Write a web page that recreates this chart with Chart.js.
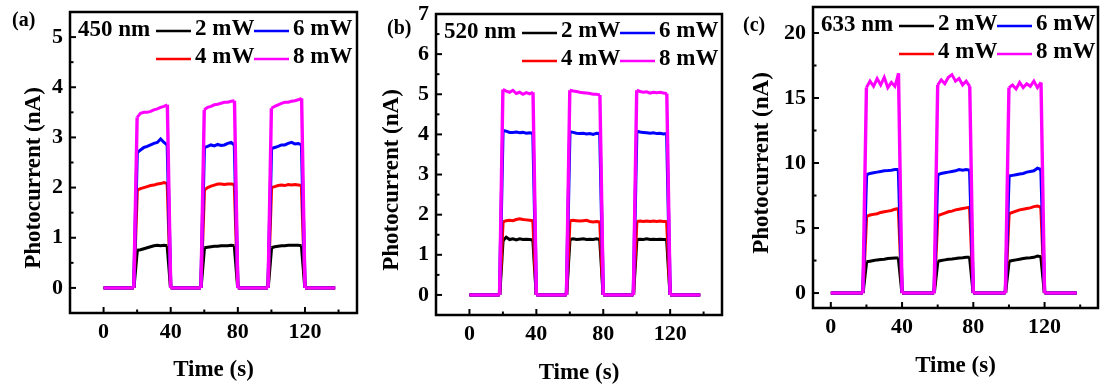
<!DOCTYPE html>
<html lang="en">
<head>
<meta charset="UTF-8">
<title>Photocurrent response</title>
<style>
  body { margin: 0; background: #fff; width: 1102px; height: 390px; position: relative; overflow: hidden; }
  canvas { position: absolute; top: 0; }
</style>
</head>
<body>
<canvas id="chartA" width="365" height="390" style="left:0"></canvas>
<canvas id="chartB" width="372" height="390" style="left:365px"></canvas>
<canvas id="chartC" width="365" height="390" style="left:737px"></canvas>

<script src="https://cdn.jsdelivr.net/npm/chart.js"></script>
<script>
// sample times (s): light on ~20-38 s, 60-78 s, 100-118 s
const timeS = [0, 18, 20, 22, 24, 26, 28, 30, 32, 34, 36, 38, 40, 58, 60, 62, 64, 66, 68, 70, 72, 74, 76, 78, 80, 98, 100, 102, 104, 106, 108, 110, 112, 114, 116, 118, 120, 138];

const xTicks = [0, 40, 80, 120];
const xMinor = [20, 60, 100, 140];

// (a) 450 nm, photocurrent in nA
const a2mW = [0, 0, 0.75, 0.76, 0.78, 0.80, 0.82, 0.84, 0.85, 0.84, 0.85, 0.84, 0, 0, 0.80, 0.81, 0.82, 0.83, 0.83, 0.84, 0.84, 0.84, 0.85, 0.84, 0, 0, 0.80, 0.82, 0.83, 0.84, 0.84, 0.85, 0.85, 0.85, 0.85, 0.84, 0, 0];
const a4mW = [0, 0, 1.95, 1.98, 2.00, 2.02, 2.04, 2.05, 2.07, 2.08, 2.10, 2.08, 0, 0, 1.95, 2.00, 2.03, 2.05, 2.07, 2.07, 2.06, 2.07, 2.07, 2.06, 0, 0, 2.00, 2.02, 2.04, 2.05, 2.04, 2.06, 2.05, 2.06, 2.05, 2.04, 0, 0];
const a6mW = [0, 0, 2.70, 2.75, 2.80, 2.82, 2.85, 2.88, 2.90, 2.97, 2.90, 2.85, 0, 0, 2.80, 2.82, 2.85, 2.83, 2.86, 2.84, 2.85, 2.88, 2.90, 2.85, 0, 0, 2.78, 2.80, 2.82, 2.85, 2.85, 2.88, 2.90, 2.87, 2.88, 2.85, 0, 0];
const a8mW = [0, 0, 3.40, 3.48, 3.50, 3.50, 3.52, 3.55, 3.57, 3.60, 3.62, 3.65, 0, 0, 3.55, 3.60, 3.62, 3.65, 3.66, 3.68, 3.70, 3.70, 3.72, 3.73, 0, 0, 3.58, 3.62, 3.65, 3.68, 3.70, 3.70, 3.72, 3.73, 3.75, 3.78, 0, 0];
const aYTicks = [0, 1, 2, 3, 4, 5];
const aYMinor = [0.5, 1.5, 2.5, 3.5, 4.5];

// (b) 520 nm
const b2mW = [0, 0, 1.35, 1.44, 1.38, 1.40, 1.37, 1.40, 1.38, 1.39, 1.38, 1.37, 0, 0, 1.38, 1.40, 1.38, 1.39, 1.40, 1.38, 1.39, 1.38, 1.40, 1.38, 0, 0, 1.38, 1.39, 1.38, 1.40, 1.38, 1.39, 1.38, 1.39, 1.38, 1.38, 0, 0];
const b4mW = [0, 0, 1.82, 1.85, 1.86, 1.85, 1.88, 1.90, 1.88, 1.87, 1.86, 1.85, 0, 0, 1.85, 1.86, 1.85, 1.84, 1.85, 1.86, 1.83, 1.82, 1.83, 1.82, 0, 0, 1.83, 1.84, 1.83, 1.84, 1.83, 1.84, 1.83, 1.84, 1.83, 1.83, 0, 0];
const b6mW = [0, 0, 4.10, 4.08, 4.05, 4.05, 4.06, 4.04, 4.05, 4.03, 4.04, 4.03, 0, 0, 4.07, 4.05, 4.03, 4.02, 4.03, 4.01, 4.02, 4.00, 4.03, 4.02, 0, 0, 4.08, 4.06, 4.05, 4.04, 4.03, 4.04, 4.02, 4.03, 4.01, 4.02, 0, 0];
const b8mW = [0, 0, 5.12, 5.08, 5.05, 5.10, 5.02, 5.05, 5.00, 5.04, 5.01, 5.05, 0, 0, 5.10, 5.08, 5.07, 5.05, 5.04, 5.03, 5.02, 5.00, 5.00, 4.98, 0, 0, 5.10, 5.07, 5.05, 5.06, 5.03, 5.05, 5.04, 5.05, 5.03, 5.02, 0, 0];
const bYTicks = [0, 1, 2, 3, 4, 5, 6, 7];
const bYMinor = [0.5, 1.5, 2.5, 3.5, 4.5, 5.5, 6.5];

// (c) 633 nm
const c2mW = [0, 0, 2.40, 2.45, 2.50, 2.55, 2.58, 2.60, 2.65, 2.68, 2.70, 2.70, 0, 0, 2.45, 2.50, 2.55, 2.60, 2.62, 2.65, 2.70, 2.72, 2.75, 2.75, 0, 0, 2.45, 2.50, 2.55, 2.60, 2.65, 2.70, 2.72, 2.75, 2.85, 2.80, 0, 0];
const c4mW = [0, 0, 5.90, 6.00, 6.05, 6.10, 6.20, 6.25, 6.30, 6.35, 6.45, 6.50, 0, 0, 5.95, 6.05, 6.15, 6.25, 6.30, 6.40, 6.45, 6.50, 6.55, 6.60, 0, 0, 6.10, 6.20, 6.30, 6.40, 6.45, 6.50, 6.55, 6.65, 6.70, 6.60, 0, 0];
const c6mW = [0, 0, 9.10, 9.20, 9.25, 9.30, 9.35, 9.40, 9.42, 9.45, 9.50, 9.50, 0, 0, 9.10, 9.20, 9.25, 9.30, 9.35, 9.40, 9.50, 9.45, 9.50, 9.45, 0, 0, 9.00, 9.05, 9.10, 9.15, 9.20, 9.30, 9.35, 9.40, 9.60, 9.50, 0, 0];
const c8mW = [0, 0, 15.8, 16.3, 15.9, 16.5, 16.0, 16.6, 15.8, 16.2, 15.9, 16.9, 0, 0, 16.0, 16.4, 16.1, 16.6, 16.8, 16.3, 16.5, 16.0, 16.3, 15.9, 0, 0, 15.8, 16.0, 15.7, 16.2, 15.8, 16.1, 15.9, 16.3, 15.8, 16.2, 0, 0];
const cYTicks = [0, 5, 10, 15, 20];
const cYMinor = [2.5, 7.5, 12.5, 17.5];

const powers = ['2 mW', '4 mW', '6 mW', '8 mW'];
const colors = ['#000000', '#ff0000', '#0000ff', '#ff00ff'];

const serif = "'Liberation Serif', 'Times New Roman', serif";
Chart.defaults.font.family = serif;
Chart.defaults.color = '#000';

// on/off switching edges get their own style, so each is stroked as a separate piece
const isEdge = c => (c.p0.parsed.y === 0) !== (c.p1.parsed.y === 0);

// frame, inward ticks, panel tag, legend and y title
const panelDecor = {
  id: 'panelDecor',
  afterDraw(chart, args, o) {
    const { ctx, chartArea: a } = chart;
    const xs = chart.scales.x, ys = chart.scales.y;
    const seg = (x1, y1, x2, y2) => { ctx.beginPath(); ctx.moveTo(x1, y1); ctx.lineTo(x2, y2); ctx.stroke(); };
    ctx.save();
    ctx.strokeStyle = '#000';
    ctx.lineWidth = 2;
    xTicks.forEach(v => { const p = xs.getPixelForValue(v); seg(p, a.bottom, p, a.bottom - 6); });
    xMinor.forEach(v => { const p = xs.getPixelForValue(v); seg(p, a.bottom, p, a.bottom - 3.5); });
    o.yTicks.forEach(v => { const p = ys.getPixelForValue(v); seg(a.left, p, a.left + 6, p); });
    o.yMinor.forEach(v => { const p = ys.getPixelForValue(v); seg(a.left, p, a.left + 3.5, p); });
    ctx.lineWidth = 2.5;
    ctx.strokeRect(a.left, a.top, a.right - a.left, a.bottom - a.top);

    ctx.fillStyle = '#000';
    ctx.textBaseline = 'middle';
    ctx.textAlign = 'left';
    ctx.font = 'bold 20px ' + serif;
    ctx.fillText(o.tag, o.tagX, o.tagY);

    ctx.font = 'bold 23px ' + serif;
    ctx.fillText(o.wavelength, a.left + 8, a.top + 18);
    chart.data.datasets.forEach((ds, i) => {
      const lx = a.left + 86 + Math.floor(i / 2) * 98;
      const ly = a.top + 19 + (i % 2) * 28;
      ctx.strokeStyle = ds.borderColor;
      ctx.lineWidth = 2.5;
      seg(lx, ly, lx + 35, ly);
      ctx.fillText(ds.label, lx + 39, ly - 2);
    });

    ctx.translate(o.yTitleX, o.yTitleY);
    ctx.rotate(-Math.PI / 2);
    ctx.textAlign = 'center';
    ctx.fillText('Photocurrent (nA)', 0, 0);
    ctx.restore();
  }
};

function buildPanel(id, p) {
  const canvas = document.getElementById(id);
  return new Chart(canvas, {
    type: 'line',
    data: {
      datasets: p.series.map((vals, i) => ({
        label: powers[i],
        data: timeS.map((t, k) => ({ x: t, y: vals[k] })),
        borderColor: colors[i],
        backgroundColor: colors[i],
        borderWidth: 3,
        segment: { borderWidth: c => isEdge(c) ? 3.4 : 3 },
        pointRadius: 0,
        tension: 0,
        order: 4 - i
      }))
    },
    options: {
      responsive: false,
      animation: false,
      layout: { padding: { top: p.top, right: p.right, left: 0, bottom: 0 } },
      plugins: {
        legend: { display: false },
        tooltip: { enabled: false },
        panelDecor: p.decor
      },
      scales: {
        x: {
          type: 'linear',
          min: p.xMin, max: p.xMax,
          grid: { display: false, drawTicks: false },
          border: { display: false },
          afterBuildTicks: s => { s.ticks = xTicks.map(v => ({ value: v })); },
          afterFit: s => { s.height = canvas.height - p.bottom; s.paddingLeft = 0; s.paddingRight = 0; },
          ticks: { font: { size: 22, weight: 'bold' }, padding: 6, maxRotation: 0, autoSkip: false },
          title: { display: true, text: 'Time (s)', font: { size: 23, weight: 'bold' }, padding: { top: 0, bottom: p.xTitlePad } }
        },
        y: {
          min: p.yMin, max: p.yMax,
          grid: { display: false, drawTicks: false },
          border: { display: false },
          afterBuildTicks: s => { s.ticks = p.decor.yTicks.map(v => ({ value: v })); },
          afterFit: s => { s.width = p.left; s.paddingTop = 0; s.paddingBottom = 0; },
          ticks: { font: { size: 22, weight: 'bold' }, padding: 7, autoSkip: false }
        }
      }
    },
    plugins: [panelDecor]
  });
}

buildPanel('chartA', {
  series: [a2mW, a4mW, a6mW, a8mW],
  xMin: -20, xMax: 151, yMin: -0.5, yMax: 5.5,
  left: 70, top: 12, right: 8, bottom: 313, xTitlePad: 6,
  decor: { tag: '(a)', tagX: 12, tagY: 21, wavelength: '450 nm', yTicks: aYTicks, yMinor: aYMinor, yTitleX: 34, yTitleY: 178 }
});

buildPanel('chartB', {
  series: [b2mW, b4mW, b6mW, b8mW],
  xMin: -20, xMax: 151, yMin: -0.5, yMax: 7,
  left: 71, top: 14, right: 15, bottom: 315, xTitlePad: 3,
  decor: { tag: '(b)', tagX: 22, tagY: 29, wavelength: '520 nm', yTicks: bYTicks, yMinor: bYMinor, yTitleX: 27, yTitleY: 180 }
});

buildPanel('chartC', {
  series: [c2mW, c4mW, c6mW, c8mW],
  xMin: -10, xMax: 150, yMin: -1.15, yMax: 22,
  left: 76, top: 7, right: 4, bottom: 308, xTitlePad: 10,
  decor: { tag: '(c)', tagX: 6, tagY: 26, wavelength: '633 nm', yTicks: cYTicks, yMinor: cYMinor, yTitleX: 25, yTitleY: 163 }
});
</script>
</body>
</html>
